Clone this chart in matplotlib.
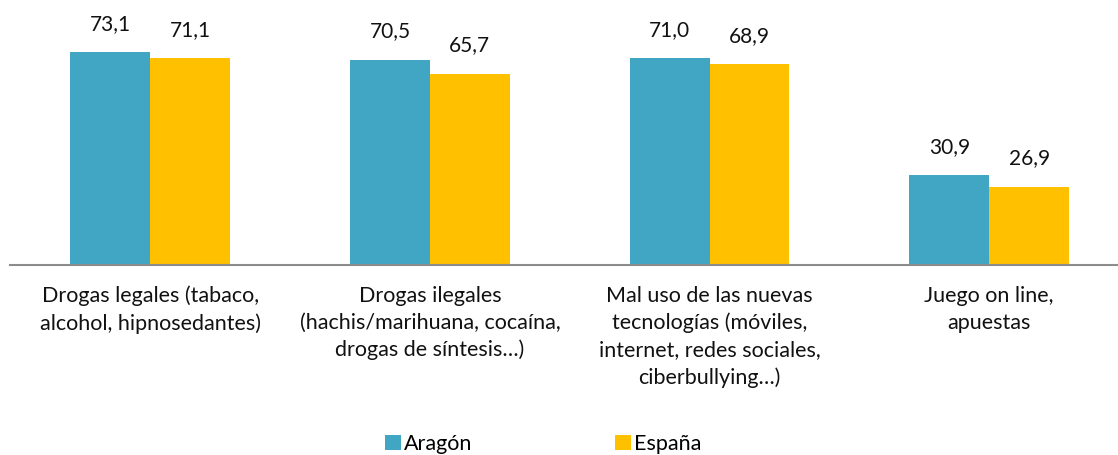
import numpy as np
import matplotlib.pyplot as plt

plt.rcParams["font.family"] = ["Lato", "DejaVu Sans"]

categories = [
    "Drogas legales (tabaco,\nalcohol, hipnosedantes)",
    "Drogas ilegales\n(hachis/marihuana, cocaína,\ndrogas de síntesis…)",
    "Mal uso de las nuevas\ntecnologías (móviles,\ninternet, redes sociales,\nciberbullying…)",
    "Juego on line,\napuestas",
]
aragon = [73.1, 70.5, 71.0, 30.9]
espana = [71.1, 65.7, 68.9, 26.9]

C_ARA = "#41A6C4"
C_ESP = "#FFC000"

fig = plt.figure(figsize=(11.18, 4.55), dpi=100)
# ejes: borde izquierdo en x=10 px, línea base en y=265 px
ax = fig.add_axes([10 / 1118, (455 - 265) / 455, 1 - 10 / 1118, 265 / 455])

x = np.arange(len(categories))
w = 80 / 280
b1 = ax.bar(x - w / 2, aragon, w, color=C_ARA, label="Aragón")
b2 = ax.bar(x + w / 2, espana, w, color=C_ESP, label="España")

for bars, vals in [(b1, aragon), (b2, espana)]:
    for r, v in zip(bars, vals):
        ax.annotate(f"{v:.1f}".replace(".", ","), (r.get_x() + r.get_width() / 2, v),
                    xytext=(0, 13), textcoords="offset points",
                    ha="center", va="bottom", fontsize=15, color="#111111")

ax.set_ylim(0, 265 / 2.914)
ax.set_xlim(-(150.5 - 10) / 280, 3 + (1118 - 989) / 280)
ax.set_yticks([])
ax.set_xticks(x)
ax.set_xticklabels(categories, fontsize=15.5, color="#111111", linespacing=1.42)
ax.tick_params(axis="x", length=0, pad=15)

for s in ["top", "right", "left"]:
    ax.spines[s].set_visible(False)
ax.spines["bottom"].set_color("#8C8C8C")
ax.spines["bottom"].set_linewidth(1.5)

fig.legend(loc="center", bbox_to_anchor=(543 / 1118, 1 - 444 / 455), ncol=2,
           frameon=False, fontsize=15.5, handlelength=0.75, handleheight=0.75,
           handletextpad=0.15, columnspacing=6.6, borderaxespad=0)

fig.savefig("out.png", dpi=100)
